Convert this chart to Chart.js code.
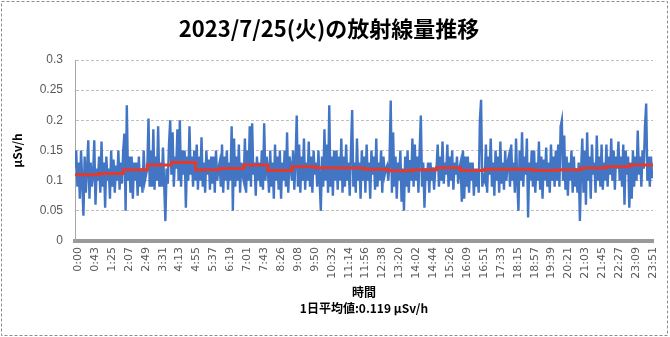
<!DOCTYPE html>
<html><head><meta charset="utf-8">
<script src="https://cdn.jsdelivr.net/npm/chart.js@4"></script>
<style>html,body{margin:0;padding:0;background:#fff;}canvas{display:block;}</style>
</head><body>
<canvas id="c" width="670" height="337"></canvas>
<script>
const chartTitle = '2023/7/25(火)の放射線量推移';
const yAxisTitle = 'μSv/h';
const xAxisTitle = '時間';
const dailyAverageText = '1日平均値:0.119 μSv/h';

const xTickLabels = ['0:00','0:43','1:25','2:07','2:49','3:31','4:13','4:55','5:37','6:19','7:01','7:43','8:26','9:08','9:50','10:32','11:14','11:56','12:38','13:20','14:02','14:44','15:26','16:09','16:51','17:33','18:15','18:57','19:39','20:21','21:03','21:45','22:27','23:09','23:51'];
const yTickLabels = ['0','0.05','0.1','0.15','0.2','0.25','0.3'];

const sampleStepMinutes = 3;
// dose rate (μSv/h), one value per 3 minutes, one row per hour
const doseRate = [
0.12,0.15,0.09,0.13,0.07,0.15,0.10,0.042,0.14,0.08,0.12,0.167,0.07,0.13,0.09,0.11,0.167,0.06,0.12,0.10,
0.14,0.08,0.165,0.09,0.13,0.055,0.14,0.10,0.12,0.07,0.15,0.09,0.135,0.08,0.125,0.10,0.15,0.085,0.13,0.095,
0.15,0.178,0.05,0.225,0.10,0.14,0.08,0.14,0.07,0.13,0.10,0.13,0.075,0.14,0.09,0.12,0.08,0.15,0.10,0.11,
0.12,0.203,0.09,0.15,0.09,0.185,0.085,0.14,0.10,0.19,0.09,0.13,0.09,0.155,0.095,0.033,0.12,0.095,0.16,0.20,
0.11,0.18,0.09,0.14,0.12,0.185,0.10,0.20,0.09,0.15,0.11,0.15,0.055,0.14,0.10,0.19,0.11,0.14,0.09,0.15,
0.10,0.16,0.085,0.14,0.10,0.172,0.09,0.13,0.08,0.15,0.11,0.135,0.085,0.14,0.095,0.14,0.08,0.15,0.10,0.12,
0.13,0.09,0.16,0.08,0.14,0.10,0.15,0.085,0.13,0.10,0.19,0.05,0.17,0.09,0.14,0.10,0.16,0.08,0.13,0.11,
0.10,0.17,0.08,0.15,0.10,0.19,0.09,0.195,0.11,0.13,0.075,0.14,0.10,0.13,0.09,0.15,0.085,0.195,0.10,0.14,
0.12,0.08,0.15,0.09,0.13,0.07,0.16,0.10,0.14,0.085,0.15,0.07,0.13,0.10,0.15,0.09,0.18,0.08,0.14,0.125,
0.10,0.15,0.085,0.13,0.208,0.09,0.16,0.08,0.14,0.10,0.17,0.085,0.13,0.10,0.165,0.09,0.14,0.08,0.15,0.11,
0.13,0.09,0.15,0.10,0.05,0.14,0.09,0.185,0.10,0.16,0.08,0.225,0.09,0.14,0.075,0.15,0.10,0.15,0.085,0.14,
0.10,0.17,0.08,0.14,0.09,0.16,0.10,0.13,0.075,0.15,0.217,0.09,0.13,0.08,0.17,0.10,0.13,0.07,0.15,0.10,
0.14,0.08,0.16,0.10,0.13,0.07,0.15,0.11,0.14,0.085,0.17,0.09,0.13,0.10,0.15,0.08,0.14,0.11,0.12,0.125,
0.10,0.13,0.233,0.08,0.18,0.09,0.14,0.07,0.13,0.10,0.15,0.065,0.12,0.05,0.14,0.09,0.15,0.08,0.134,0.10,
0.17,0.09,0.16,0.10,0.14,0.08,0.15,0.208,0.09,0.13,0.055,0.12,0.10,0.13,0.08,0.13,0.10,0.122,0.085,0.12,
0.12,0.16,0.09,0.14,0.10,0.165,0.095,0.13,0.11,0.16,0.09,0.14,0.10,0.15,0.085,0.13,0.11,0.14,0.095,0.12,
0.13,0.065,0.15,0.07,0.14,0.09,0.14,0.08,0.13,0.10,0.13,0.075,0.12,0.09,0.12,0.08,0.20,0.234,0.09,0.106,
0.10,0.16,0.08,0.14,0.11,0.17,0.09,0.13,0.075,0.15,0.10,0.14,0.08,0.165,0.095,0.13,0.085,0.15,0.10,0.13,
0.14,0.09,0.16,0.10,0.13,0.08,0.17,0.10,0.05,0.15,0.10,0.18,0.09,0.14,0.11,0.17,0.039,0.13,0.10,0.15,
0.09,0.15,0.08,0.13,0.10,0.165,0.085,0.14,0.07,0.135,0.10,0.155,0.09,0.13,0.08,0.16,0.10,0.14,0.09,0.15,
0.10,0.16,0.09,0.19,0.20,0.10,0.175,0.085,0.14,0.075,0.13,0.10,0.15,0.08,0.14,0.09,0.12,0.08,0.13,0.033,
0.12,0.17,0.08,0.15,0.06,0.18,0.10,0.14,0.07,0.16,0.11,0.13,0.08,0.175,0.10,0.14,0.09,0.16,0.085,0.13,
0.10,0.16,0.09,0.14,0.11,0.17,0.10,0.15,0.085,0.14,0.12,0.165,0.10,0.14,0.09,0.16,0.06,0.15,0.11,0.14,
0.055,0.13,0.07,0.15,0.09,0.14,0.10,0.183,0.11,0.14,0.09,0.15,0.12,0.19,0.228,0.10,0.14,0.09,0.14,0.104
];
// hourly average (μSv/h), hours 0..23
const hourlyAverage = [0.110,0.112,0.118,0.126,0.130,0.118,0.120,0.126,0.117,0.123,0.1215,0.121,0.119,0.1166,0.118,0.1215,0.117,0.119,0.119,0.117,0.118,0.121,0.123,0.126];
const dayEndMinute = 1439;

function toMinutes(label){ const p = label.split(':'); return (+p[0])*60 + (+p[1]); }

const blueData = doseRate.map((v,i)=>({x:i*sampleStepMinutes, y:v}));
const redData = hourlyAverage.map((v,h)=>({x:h*60, y:v}));
redData.push({x:dayEndMinute, y:hourlyAverage[hourlyAverage.length-1]});

const frame = {
  id:'frame',
  beforeDraw(chart){
    const ctx = chart.ctx;
    ctx.save(); ctx.fillStyle='#fff'; ctx.fillRect(0,0,chart.width,chart.height); ctx.restore();
  },
  afterDraw(chart){
    const ctx = chart.ctx;
    ctx.save();
    ctx.strokeStyle='#8c8c8c'; ctx.lineWidth=1; ctx.setLineDash([3,2]);
    ctx.strokeRect(1.5,1.5,chart.width-4,chart.height-3);
    ctx.restore();
  }
};

new Chart(document.getElementById('c'), {
  type:'line',
  data:{datasets:[
    {label:'平均', data:redData, borderColor:'#E23A2C', borderWidth:3, pointRadius:0, stepped:true, order:0, fill:false},
    {label:'線量', data:blueData, borderColor:'#4275C4', borderWidth:2.4, pointRadius:0, tension:0, order:1, fill:false}
  ]},
  options:{
    responsive:false, animation:false, devicePixelRatio:1,
    layout:{padding:{left:5,right:17,top:0,bottom:0}},
    plugins:{
      legend:{display:false}, tooltip:{enabled:false},
      title:{display:true, text:chartTitle, color:'#000',
        font:{family:'"Noto Sans CJK JP", sans-serif', size:22, weight:'bold', lineHeight:1.2},
        padding:{top:15,bottom:18.6}}
    },
    scales:{
      x:{type:'linear', min:0, max:dayEndMinute,
        afterFit(s){ s.height = 96; },
        afterBuildTicks(s){ s.ticks = xTickLabels.map(l=>({value:toMinutes(l)})); },
        ticks:{autoSkip:false, minRotation:90, maxRotation:90, padding:6, labelOffset:3, color:'#595959',
          font:{family:'"DejaVu Sans", sans-serif', size:11},
          callback:(v,i)=>xTickLabels[i]},
        grid:{display:false, drawTicks:false},
        border:{display:true, color:'#9a9a9a', width:4},
        title:{display:true, text:[xAxisTitle, dailyAverageText], color:'#000',
          font:{family:'"Noto Sans CJK JP", sans-serif', size:12, weight:'bold', lineHeight:1.3},
          padding:{top:0,bottom:21}}
      },
      y:{min:0, max:0.3,
        afterFit(s){ s.width = 70; },
        ticks:{stepSize:0.05, padding:12, color:'#595959',
          font:{family:'"Liberation Sans", sans-serif', size:12},
          callback:(v)=>yTickLabels[Math.round(v/0.05)]},
        grid:{color:'#BFBFBF', lineWidth:1, drawTicks:false},
        border:{display:true, color:'#A6A6A6', width:1, dash:[3,2]},
        title:{display:true, text:yAxisTitle, color:'#000',
          font:{family:'"Noto Sans CJK JP", sans-serif', size:12, weight:'bold', lineHeight:1.2},
          padding:{top:5,bottom:0}}
      }
    }
  },
  plugins:[frame]
});
</script>
</body></html>
